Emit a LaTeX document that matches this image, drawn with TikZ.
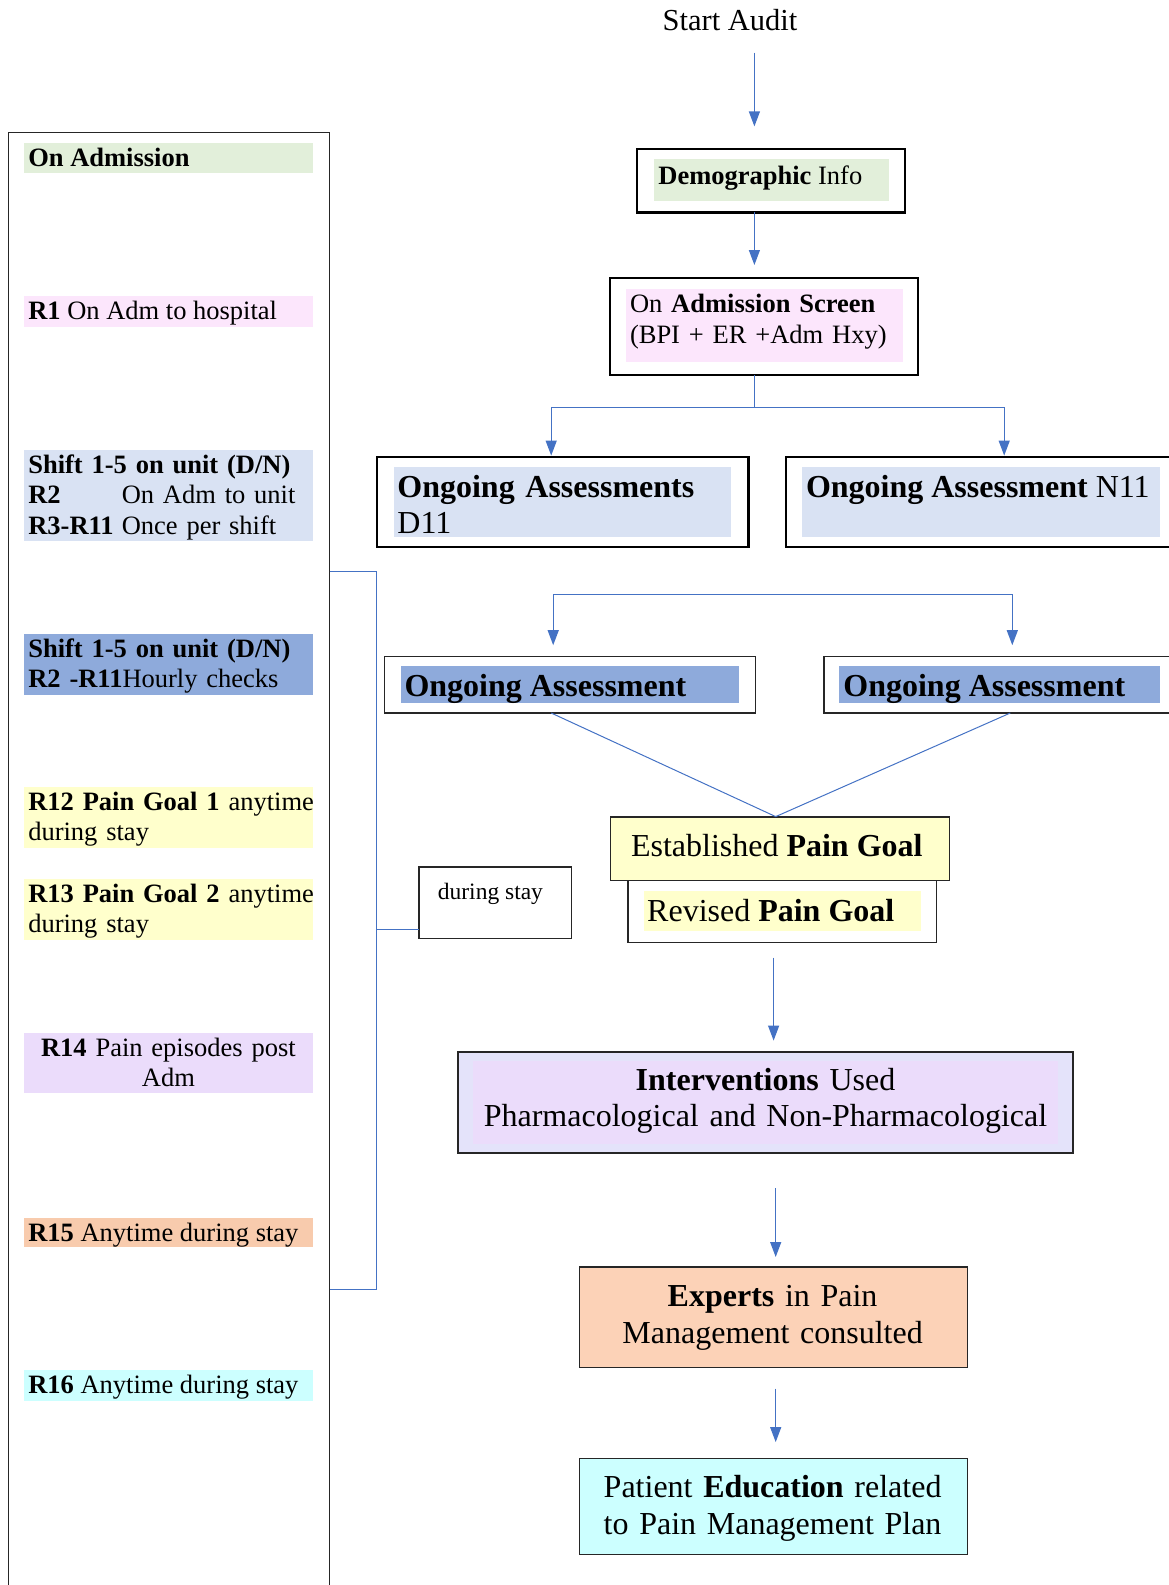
\documentclass[tikz,border=0pt]{standalone}
\usepackage{fontspec}
\setmainfont{Liberation Serif}
\usetikzlibrary{arrows.meta}
\definecolor{hlgreen}{HTML}{E2EFDA}
\definecolor{hlpink}{HTML}{FCE6FC}
\definecolor{hlblue}{HTML}{D9E2F3}
\definecolor{hlmid}{HTML}{8EAADB}
\definecolor{hlyellow}{HTML}{FFFFCC}
\definecolor{hlpurple}{HTML}{EBDCFB}
\definecolor{hlpeach}{HTML}{F8CBAD}
\definecolor{hlcyan}{HTML}{CCFFFF}
\definecolor{boxlav}{HTML}{E4E3FA}
\definecolor{boxpeach}{HTML}{FCD2B7}
\definecolor{linkblue}{HTML}{4472C4}
\newcommand\fsa{\fontsize{26.5}{30.3}\selectfont}
\newcommand\fsaw{\fontsize{26.5}{31.3}\selectfont}
\newcommand\fsb{\fontsize{32}{35.6}\selectfont}
\newcommand\fsbw{\fontsize{32}{36.5}\selectfont}
\newcommand\fsc{\fontsize{23.5}{27}\selectfont}
\newcommand\fss{\fontsize{30.5}{34}\selectfont}
\newcommand\Rlab[1]{\makebox[3.527em][l]{\textbf{#1}}}
\begin{document}
\begin{tikzpicture}[x=1pt,y=-1pt,
  area/.style={draw=none, anchor=north west, inner sep=0pt, outer sep=0pt},
  frame/.style={draw=black, line width=2.3pt, anchor=north west, inner sep=0pt, outer sep=0pt},
  thinframe/.style={draw=black!85, line width=1.3pt, anchor=north west, inner sep=0pt, outer sep=0pt},
  txt/.style={anchor=base west, inner sep=0pt, outer sep=0pt, align=left},
  ctxt/.style={anchor=base, inner sep=0pt, outer sep=0pt, align=center},
  link/.style={draw=linkblue, line width=1.2pt},
  arr/.style={link, -{Triangle[length=15pt,width=11pt]}},
]
\useasboundingbox (0,0) rectangle (1168,1585);

% ---------- left panel ----------
\node[thinframe, minimum width=321pt, minimum height=1500pt] (panel) at (8.5,132.5) {};
\node[area, fill=hlgreen,  minimum width=288.2pt, minimum height=30.3pt] (hlonadm) at (24.3,142.6) {};
\node[area, fill=hlpink,   minimum width=288.2pt, minimum height=30.4pt] (hlr1) at (24.3,296.3) {};
\node[area, fill=hlblue,   minimum width=288.2pt, minimum height=91pt] (hlsh1) at (24.3,450) {};
\node[area, fill=hlmid,    minimum width=288.2pt, minimum height=60.8pt] (hlsh2) at (24.3,634) {};
\node[area, fill=hlyellow, minimum width=288.2pt, minimum height=60.7pt] (hlr12) at (24.3,786.8) {};
\node[area, fill=hlyellow, minimum width=288.2pt, minimum height=60.7pt] (hlr13) at (24.3,878.8) {};
\node[area, fill=hlpurple, minimum width=288.2pt, minimum height=60.7pt] (hlr14) at (24.3,1032.5) {};
\node[area, fill=hlpeach,  minimum width=288.2pt, minimum height=29.4pt] (hlr15) at (24.3,1217.6) {};
\node[area, fill=hlcyan,   minimum width=288.2pt, minimum height=30.3pt] (hlr16) at (24.3,1370.3) {};

\node[txt, font=\fsa] (tonadm) at (28.3,166.1) {\textbf{On Admission}};
\node[txt, font=\fsa] (tr1) at (28.3,319.8) {\textbf{R1} On Adm to hospital};
\node[txt, font=\fsa, text width=340pt] (tsh1) at (28.3,473.5) {\textbf{Shift 1-5 on unit (D/N)}\\\Rlab{R2}On Adm to unit\\\Rlab{R3-R11}Once per shift};
\node[txt, font=\fsa, text width=340pt] (tsh2) at (28.3,657.5) {\textbf{Shift 1-5 on unit (D/N)}\\\textbf{R2 -R11}Hourly checks};
\node[txt, font=\fsa, text width=340pt] (tr12) at (28.3,810.3) {\textbf{R12 Pain Goal 1} anytime\\during stay};
\node[txt, font=\fsa, text width=340pt] (tr13) at (28.3,902.3) {\textbf{R13 Pain Goal 2} anytime\\during stay};
\node[ctxt, font=\fsa, text width=288pt] (tr14) at (168.4,1056.5) {\textbf{R14} Pain episodes post\\Adm};
\node[txt, font=\fsa] (tr15) at (28.3,1241.1) {\textbf{R15} Anytime during stay};
\node[txt, font=\fsa] (tr16) at (28.3,1393.8) {\textbf{R16} Anytime during stay};

% bracket and "during stay"
\node[thinframe, line width=1.8pt, minimum width=152.7pt, minimum height=71.8pt] (during) at (418.7,866.7) {};
\node[txt, font=\fsc] (tduring) at (437.9,899) {during stay};
\coordinate (brtop) at (376.2,571.4);
\coordinate (brbot) at (376.2,1289.4);
\coordinate (brmid) at (376.2,929.4);
\draw[link] (panel.east |- brtop) -- (brtop) -- (brbot) -- (panel.east |- brbot);
\draw[link, line width=1.6pt] (brmid) -- (brmid -| during.west);

% ---------- right flow ----------
\node[ctxt, font=\fss] (start) at (730,30) {Start Audit};

\node[frame, minimum width=268pt, minimum height=63.7pt] (demo) at (637.1,148.7) {};
\node[area, fill=hlgreen, minimum width=234.6pt, minimum height=42.4pt] (demohl) at (654.3,158.8) {};
\node[txt, font=\fsa] (tdemo) at (658.4,184) {\textbf{Demographic} Info};

\node[frame, minimum width=308.5pt, minimum height=97.1pt] (screen) at (609.8,278.1) {};
\node[area, fill=hlpink, minimum width=277pt, minimum height=72.8pt] (screenhl) at (626,289.2) {};
\node[txt, font=\fsaw, text width=300pt] (tscreen) at (630,312.5) {On \textbf{Admission Screen}\\(BPI + ER +Adm Hxy)};

\node[frame, minimum width=371.2pt, minimum height=90pt] (d11) at (377.2,457.1) {};
\node[area, fill=hlblue, minimum width=336.8pt, minimum height=69.8pt] (d11hl) at (394.4,467.2) {};
\node[txt, font=\fsb, text width=360pt] (td11) at (397.4,497.6) {\textbf{Ongoing Assessments}\\D11};

\node[frame, minimum width=420pt, minimum height=90pt] (n11) at (785.8,457.1) {};
\node[area, fill=hlblue, minimum width=358pt, minimum height=69.8pt] (n11hl) at (802,467.2) {};
\node[txt, font=\fsb] (tn11) at (806,497.6) {\textbf{Ongoing Assessment} N11};

\node[thinframe, line width=1.5pt, minimum width=371.1pt, minimum height=56.7pt] (oal) at (384.3,656.3) {};
\node[area, fill=hlmid, minimum width=338.8pt, minimum height=36.5pt] (oalhl) at (400.5,666.4) {};
\node[txt, font=\fsb] (toal) at (404.5,696.8) {\textbf{Ongoing Assessment}};

\node[thinframe, line width=1.5pt, minimum width=420pt, minimum height=56.7pt] (oar) at (824.2,656.3) {};
\node[area, fill=hlmid, minimum width=320.6pt, minimum height=36.5pt] (oarhl) at (839.4,666.4) {};
\node[txt, font=\fsb] (toar) at (843.4,696.8) {\textbf{Ongoing Assessment}};

\node[thinframe, fill=hlyellow, minimum width=338.8pt, minimum height=63.7pt] (est) at (610.8,817.1) {};
\node[txt, font=\fsb] (test) at (631,856.6) {Established \textbf{Pain Goal}};
\node[thinframe, fill=white, minimum width=308.5pt, minimum height=61.7pt] (rev) at (628,880.8) {};
\node[area, fill=hlyellow, minimum width=277.1pt, minimum height=40.4pt] (revhl) at (644.2,891) {};
\node[txt, font=\fsb] (trev) at (647.2,921.3) {Revised \textbf{Pain Goal}};

\node[thinframe, line width=1.5pt, fill=boxlav, minimum width=614.9pt, minimum height=101.1pt] (interv) at (458.1,1051.8) {};
\node[area, fill=hlpurple, minimum width=585pt, minimum height=83pt] (intervhl) at (473,1061) {};
\node[ctxt, font=\fsbw, text width=620pt] (tinterv) at (765.5,1090) {\textbf{Interventions} Used\\Pharmacological and Non-Pharmacological};

\node[thinframe, fill=boxpeach, minimum width=388.3pt, minimum height=100.3pt] (experts) at (579.5,1267) {};
\node[ctxt, font=\fsbw, text width=380pt] (texperts) at (772.6,1306.6) {\textbf{Experts} in Pain\\Management consulted};

\node[thinframe, fill=hlcyan, minimum width=388.3pt, minimum height=96.1pt] (patient) at (579.5,1458.3) {};
\node[ctxt, font=\fsbw, text width=380pt] (tpatient) at (772.6,1497.7) {Patient \textbf{Education} related\\to Pain Management Plan};

% ---------- connectors ----------
\coordinate (a1s) at (754.4,52.6);
\coordinate (a1e) at (754.4,126.4);
\draw[arr] (a1s) -- (a1e);

\coordinate (a2e) at (754.4,265);
\draw[arr] (demo.south -| a2e) -- (a2e);

\coordinate (split1) at (754.4,407.5);
\coordinate (d11in) at (551.2,455.6);
\coordinate (n11in) at (1004.2,455.6);
\draw[link] (screen.south -| split1) -- (split1);
\draw[arr] (split1) -| (d11in);
\draw[arr] (split1) -| (n11in);

\coordinate (fork2l) at (553.2,594.6);
\coordinate (fork2r) at (1012.3,594.6);
\coordinate (oalin) at (553.2,645.2);
\coordinate (oarin) at (1012.3,645.2);
\draw[arr] (fork2r) -- (fork2l) -- (oalin);
\draw[arr] (fork2l) -- (fork2r) -- (oarin);

\coordinate (oalout) at (551.2,713);
\coordinate (oarout) at (1010.3,713);
\coordinate (meet) at (775.7,816.6);
\draw[link, line width=1pt] (oalout) -- (meet) -- (oarout);

\coordinate (a5s) at (773.6,957.7);
\coordinate (a5e) at (773.6,1040.6);
\draw[arr] (a5s) -- (a5e);
\coordinate (a6s) at (775.7,1188);
\coordinate (a6e) at (775.7,1257);
\draw[arr] (a6s) -- (a6e);
\coordinate (a7s) at (775.7,1388.5);
\coordinate (a7e) at (775.7,1442.1);
\draw[arr] (a7s) -- (a7e);
\end{tikzpicture}
\end{document}
